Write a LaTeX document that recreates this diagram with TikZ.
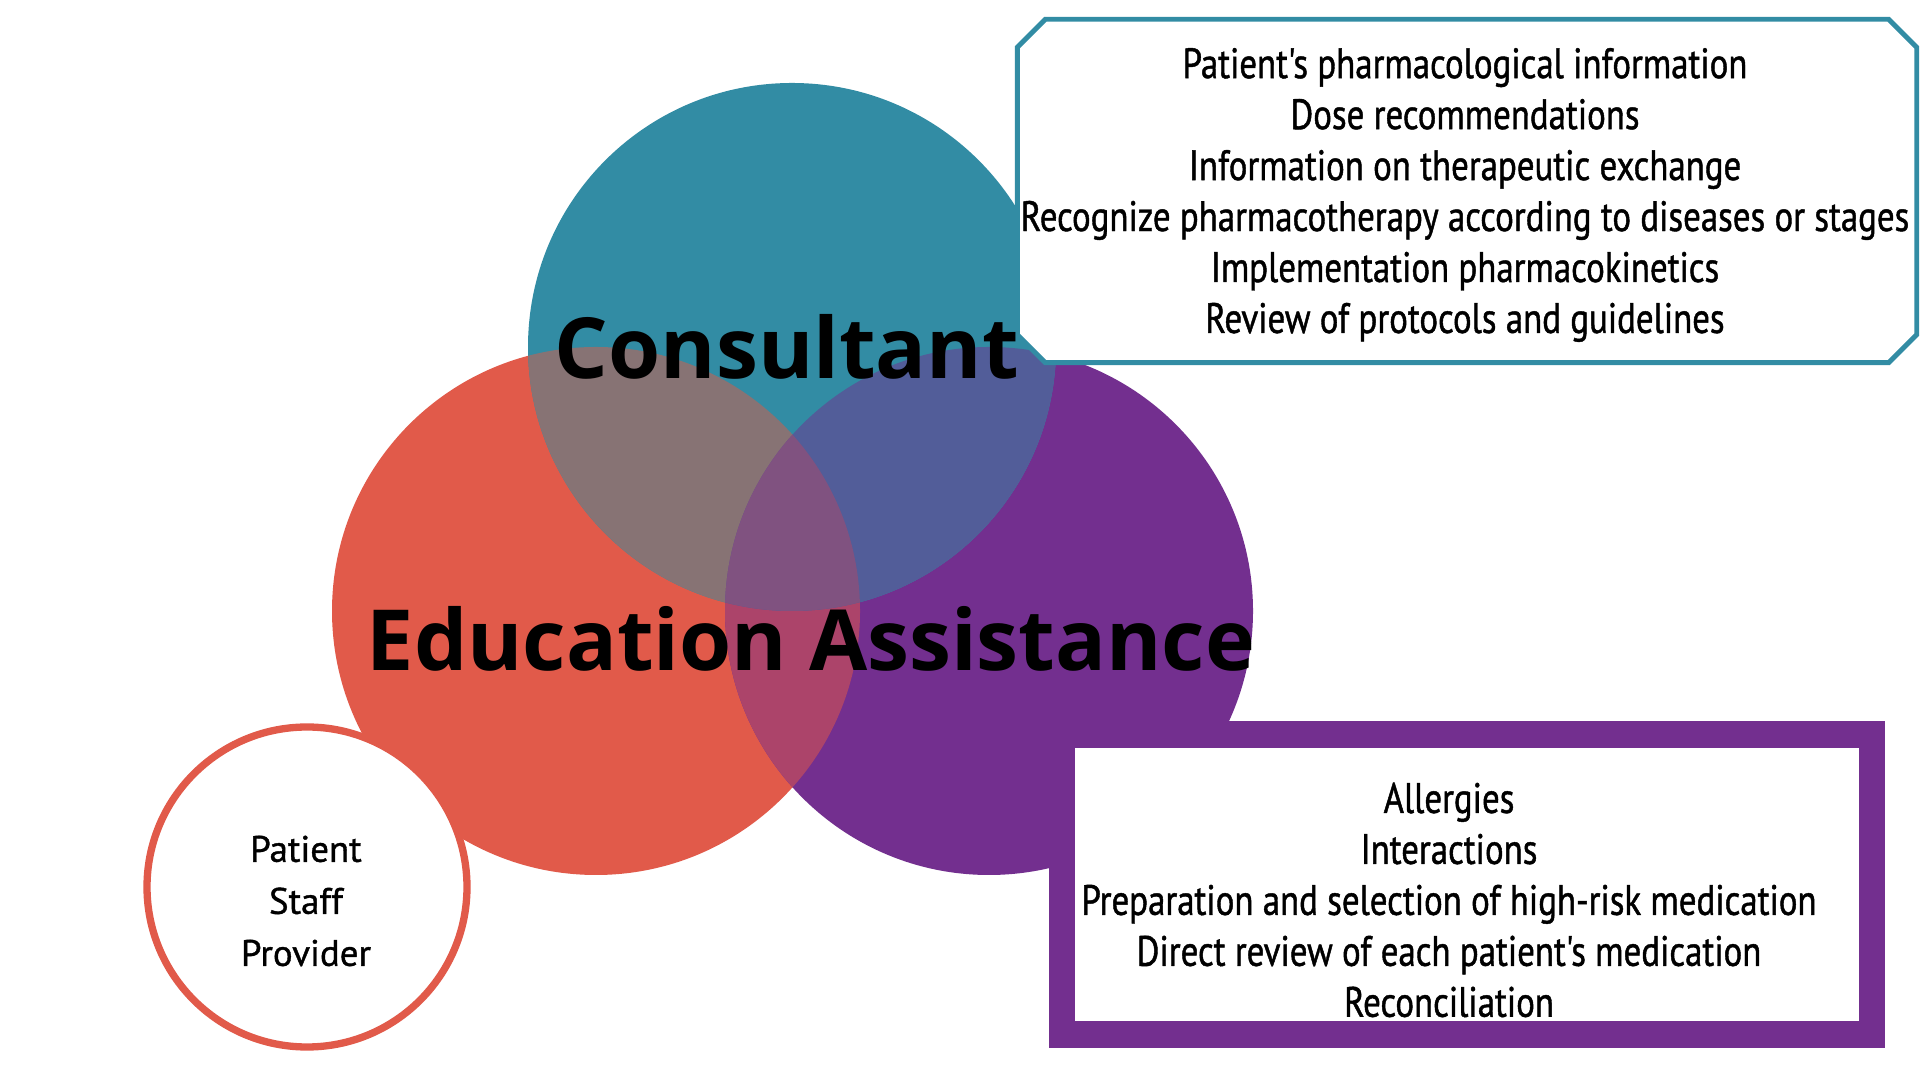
\documentclass[tikz,border=0pt]{standalone}
\usepackage{fontspec}
\setmainfont{Open Sans}
\newfontfamily\listfont[FakeStretch=0.82,FakeBold=1]{PT Sans}
\newfontfamily\roundfont[FakeBold=1]{PT Sans}
\definecolor{consult}{RGB}{50,140,164}
\definecolor{educ}{RGB}{225,90,74}
\definecolor{assist}{RGB}{115,47,143}
\definecolor{consulteduc}{RGB}{135,115,116}
\definecolor{consultassist}{RGB}{82,93,153}
\definecolor{educassist}{RGB}{172,68,106}
\definecolor{allthree}{RGB}{128,82,128}

\begin{document}
\begin{tikzpicture}[
        ring/.style={circle, minimum size=5.28cm, inner sep=0pt},
        title/.style={font=\bfseries\fontsize{24}{28}\selectfont, text=black},
        list/.style={align=center, font=\listfont\fontsize{12.1}{14.5}\selectfont}
    ]
        \useasboundingbox (0,0) rectangle (19.2,10.8);
        \fill[white] (0,0) rectangle (19.2,10.8);

        \node[ring, fill=educ] (ce) at (5.96,4.69) {};
        \node[ring, fill=assist] (ca) at (9.89,4.69) {};
        \node[ring, fill=consult] (cc) at (7.92,7.33) {};

        \begin{scope}
            \clip (ce.center) circle (2.64);
            \fill[consulteduc] (cc.center) circle (2.64);
            \fill[educassist] (ca.center) circle (2.64);
        \end{scope}
        \begin{scope}
            \clip (ca.center) circle (2.64);
            \fill[consultassist] (cc.center) circle (2.64);
        \end{scope}
        \begin{scope}
            \clip (cc.center) circle (2.64);
            \clip (ce.center) circle (2.64);
            \fill[allthree] (ca.center) circle (2.64);
        \end{scope}

        \node[inner sep=0pt, minimum width=8.98cm, minimum height=3.42cm] (consultbox) at (14.67,8.89) {};
        \draw[consult, line width=1.4pt, fill=white]
            ([xshift=0.28cm]consultbox.north west) -- ([xshift=-0.28cm]consultbox.north east)
            -- ([yshift=-0.28cm]consultbox.north east) -- ([yshift=0.28cm]consultbox.south east)
            -- ([xshift=-0.28cm]consultbox.south east) -- ([xshift=0.28cm]consultbox.south west)
            -- ([yshift=0.28cm]consultbox.south west) -- ([yshift=-0.28cm]consultbox.north west) -- cycle;
        \node[list] (consultlist) at (14.65,8.85) {Patient's pharmacological information\\Dose recommendations\\Information on therapeutic exchange\\Recognize pharmacotherapy according to diseases or stages\\Implementation pharmacokinetics\\Review of protocols and guidelines};

        \node[draw=assist, line width=0.265cm, fill=white, inner sep=0pt,
              minimum width=8.10cm, minimum height=3.00cm] (assistbox) at (14.67,1.955) {};
        \node[list] (assistlist) at (14.49,1.80) {Allergies\\Interactions\\Preparation and selection of high-risk medication\\Direct review of each patient's medication\\Reconciliation};

        \node[circle, draw=educ, line width=0.073cm, fill=white, inner sep=0pt, minimum size=3.20cm] (educring) at (3.07,1.93) {};
        \node[align=center, font=\roundfont\fontsize{10.5}{14.8}\selectfont] (educlist) at (3.06,1.79) {Patient\\Staff\\Provider};

        \node[title] (consultlabel) at (7.87,7.33) {Consultant};
        \node[title] (educlabel) at (8.11,4.41) {Education Assistance};
    \end{tikzpicture}
\end{document}
